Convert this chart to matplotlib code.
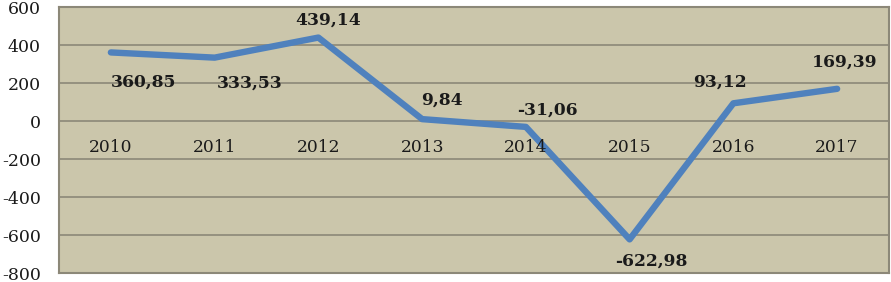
import matplotlib.pyplot as plt

years = ['2010', '2011', '2012', '2013', '2014', '2015', '2016', '2017']
values = [360.85, 333.53, 439.14, 9.84, -31.06, -622.98, 93.12, 169.39]
labels = ['360,85', '333,53', '439,14', '9,84', '-31,06', '-622,98', '93,12', '169,39']
yticks = [-800, -600, -400, -200, 0, 200, 400, 600]
# label offsets in pixels (dx, dy) from the point
offs = [(33, -30), (35, -25), (10, 17), (20, 19), (22, 17), (22, -22), (-13, 21), (8, 27)]

plt.rcParams['font.family'] = ['DejaVu Serif']
plt.rcParams['axes.unicode_minus'] = False

fig = plt.figure(figsize=(8.91, 2.82), dpi=100)
ax = fig.add_axes([59/891, 9/282, 830/891, 266/282])
ax.set_facecolor('#CBC6AB')

x = range(len(values))
ax.plot(x, values, color='#4F81BD', lw=4.6, solid_capstyle='round', zorder=3)

for i in x:
    ax.annotate(labels[i], (i, values[i]), xytext=(offs[i][0]*0.72, offs[i][1]*0.72),
                textcoords='offset points', ha='center', va='center',
                fontsize=12.3, fontweight='bold', color='#1a1a1a', zorder=4)
    ax.text(i, -140, years[i], ha='center', va='center', fontsize=12.3, color='#1a1a1a')

ax.set_xlim(-0.5, 7.5)
ax.set_ylim(-800, 600)
ax.set_yticks(yticks)
ax.set_yticklabels([str(v) for v in yticks], fontfamily='DejaVu Serif', fontsize=12.5)
ax.set_xticks([])
ax.tick_params(axis='y', length=0, pad=13, colors='#1a1a1a')
ax.grid(axis='y', color='#8C8878', lw=1.2)
ax.set_axisbelow(True)
for s in ax.spines.values():
    s.set_color('#8C8878')
    s.set_linewidth(1.5)

plt.savefig('out.png', dpi=100)
